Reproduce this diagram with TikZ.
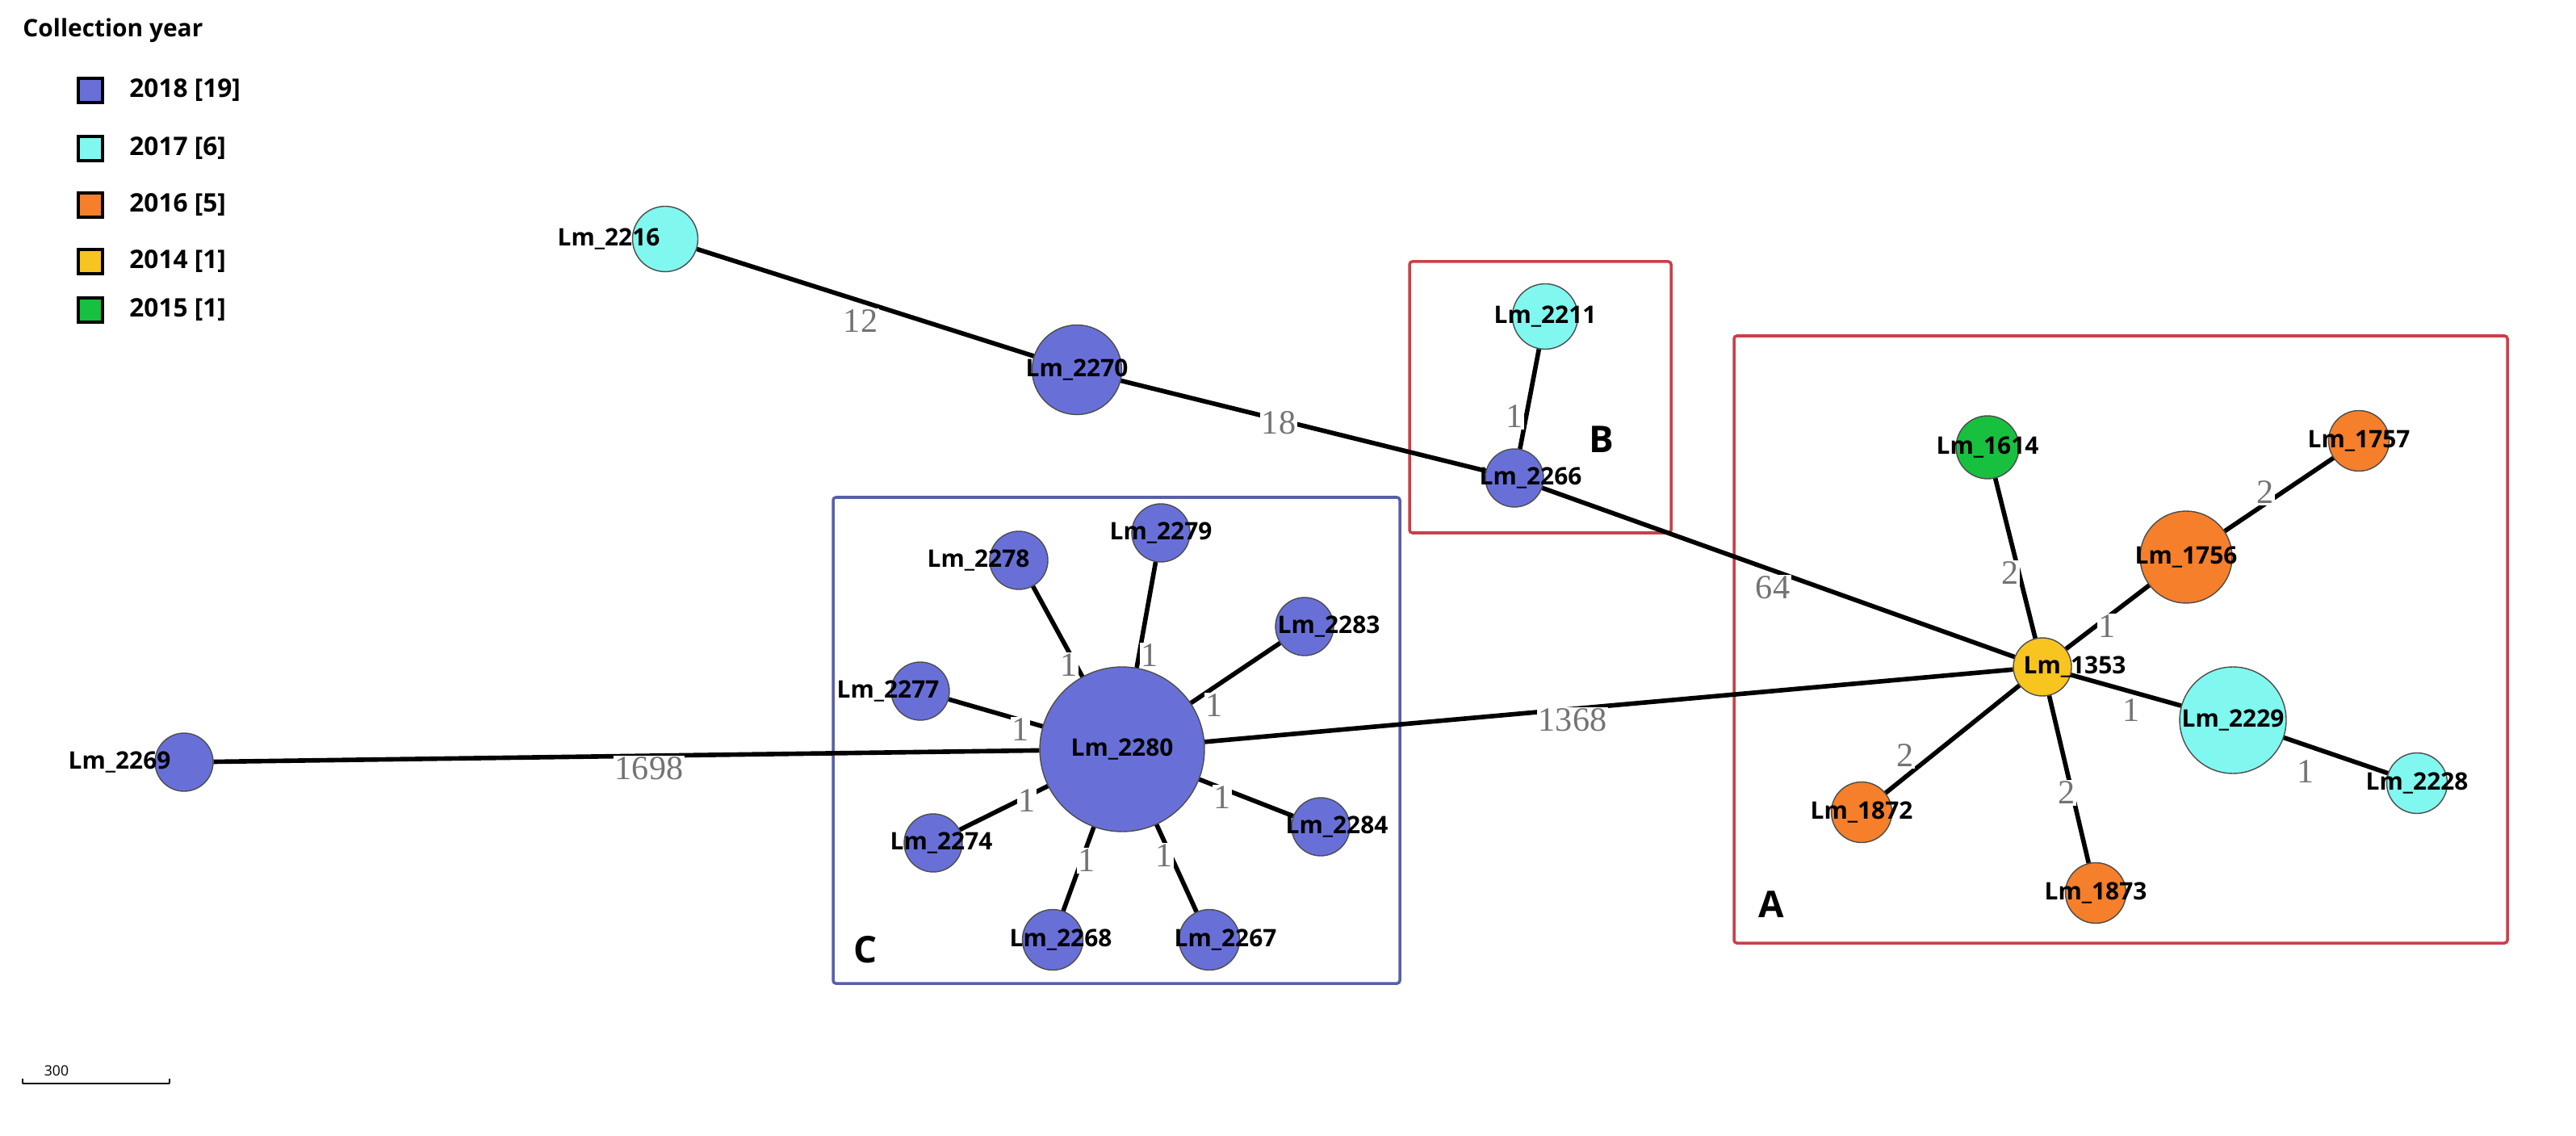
\documentclass[tikz,border=0pt]{standalone}
\usepackage{fontspec}
\setmainfont{Open Sans}
\newfontfamily\lblfont{Liberation Serif}
\begin{document}
\begin{tikzpicture}[x=0.02cm,y=-0.02cm,
 nd/.style={circle,draw=black!70,line width=0.4pt,inner sep=0pt,minimum size=#1*0.03cm},
 nm/.style={font=\bfseries\fontsize{8.5}{9}\selectfont},
 ed/.style={line width=1.6pt},
 el/.style={font=\lblfont\fontsize{12}{12}\selectfont,text=black!55,fill=white,inner sep=0.5pt},
 box/.style={line width=1pt,rounded corners=1pt}]
\definecolor{c18}{HTML}{6870D8}
\definecolor{c17}{HTML}{80F8F0}
\definecolor{c16}{HTML}{F57F2A}
\definecolor{c14}{HTML}{F8C420}
\definecolor{c15}{HTML}{18C040}
\definecolor{rb}{HTML}{C8404A}
\definecolor{bb}{HTML}{5860A8}
\useasboundingbox (0,0) rectangle (1595.5,703.5);
% boxes
\draw[box,rb] (873,162) rectangle (1035,330);
\draw[box,rb] (1074,208) rectangle (1553,584);
\draw[box,bb] (516,308) rectangle (867,609);
\node[font=\bfseries\fontsize{13}{13}\selectfont] (lB) at (992,272) {B};
\node[font=\bfseries\fontsize{13}{13}\selectfont] (lA) at (1097,560) {A};
\node[font=\bfseries\fontsize{13}{13}\selectfont] (lC) at (536,588) {C};
% nodes
\node[nd=27,fill=c17] (n2216) at (412,148) {};
\node[nd=37,fill=c18] (n2270) at (667,229) {};
\node[nd=27,fill=c17] (n2211) at (957,196) {};
\node[nd=24,fill=c18] (n2266) at (938,296) {};
\node[nd=24,fill=c14] (n1353) at (1265,413) {};
\node[nd=26,fill=c15] (n1614) at (1231,277) {};
\node[nd=25,fill=c16] (n1757) at (1461,273) {};
\node[nd=38,fill=c16] (n1756) at (1354,345) {};
\node[nd=44,fill=c17] (n2229) at (1383,446) {};
\node[nd=25,fill=c17] (n2228) at (1497,485) {};
\node[nd=25,fill=c16] (n1872) at (1153,503) {};
\node[nd=25,fill=c16] (n1873) at (1298,553) {};
\node[nd=68,fill=c18] (n2280) at (695,464) {};
\node[nd=24,fill=c18] (n2278) at (631,347) {};
\node[nd=24,fill=c18] (n2279) at (719,330) {};
\node[nd=24,fill=c18] (n2283) at (808,388) {};
\node[nd=24,fill=c18] (n2277) at (570,428) {};
\node[nd=24,fill=c18] (n2274) at (578,522) {};
\node[nd=24,fill=c18] (n2284) at (818,512) {};
\node[nd=25,fill=c18] (n2268) at (652,582) {};
\node[nd=25,fill=c18] (n2267) at (749,582) {};
\node[nd=24,fill=c18] (n2269) at (114,472) {};
% edges
\draw[ed] (n2216)--(n2270);
\draw[ed] (n2270)--(n2266);
\draw[ed] (n2266)--(n2211);
\draw[ed] (n2266)--(n1353);
\draw[ed] (n1353)--(n1614);
\draw[ed] (n1353)--(n1756);
\draw[ed] (n1756)--(n1757);
\draw[ed] (n1353)--(n2229);
\draw[ed] (n2229)--(n2228);
\draw[ed] (n1353)--(n1872);
\draw[ed] (n1353)--(n1873);
\draw[ed] (n2280)--(n1353);
\draw[ed] (n2269)--(n2280);
\foreach \t in {2278,2279,2283,2277,2274,2284,2268,2267} \draw[ed] (n2280)--(n\t);
% edge labels
\node[el] (e1) at (533,199) {12};
\node[el] (e2) at (792,262) {18};
\node[el] (e3) at (938,258) {1};
\node[el] (e4) at (1098,364) {64};
\node[el] (e5) at (1245,355) {2};
\node[el] (e6) at (1403,305) {2};
\node[el] (e7) at (1305,388) {1};
\node[el] (e8) at (1320,440) {1};
\node[el] (e9) at (1428,478) {1};
\node[el] (e10) at (1180,468) {2};
\node[el] (e11) at (1280,491) {2};
\node[el] (e12) at (974,446) {1368};
\node[el] (e13) at (402,476) {1698};
\node[el] (e14) at (662,412) {1};
\node[el] (e15) at (712,406) {1};
\node[el] (e16) at (752,437) {1};
\node[el] (e17) at (632,452) {1};
\node[el] (e18) at (636,496) {1};
\node[el] (e19) at (757,494) {1};
\node[el] (e20) at (673,533) {1};
\node[el] (e21) at (721,530) {1};
% names
\node[nm] at (n2216) [xshift=-0.7cm] {Lm\_2216};
\node[nm] at (n2270) {Lm\_2270};
\node[nm] at (n2211) {Lm\_2211};
\node[nm] at (n2266) [xshift=0.2cm] {Lm\_2266};
\node[nm] at (n1353) [xshift=0.4cm] {Lm\_1353};
\node[nm] at (n1614) {Lm\_1614};
\node[nm] at (n1757) {Lm\_1757};
\node[nm] at (n1756) {Lm\_1756};
\node[nm] at (n2229) {Lm\_2229};
\node[nm] at (n2228) {Lm\_2228};
\node[nm] at (n1872) {Lm\_1872};
\node[nm] at (n1873) {Lm\_1873};
\node[nm] at (n2280) {Lm\_2280};
\node[nm] at (n2278) [xshift=-0.5cm] {Lm\_2278};
\node[nm] at (n2279) {Lm\_2279};
\node[nm] at (n2283) [xshift=0.3cm] {Lm\_2283};
\node[nm] at (n2277) [xshift=-0.4cm] {Lm\_2277};
\node[nm] at (n2274) [xshift=0.1cm] {Lm\_2274};
\node[nm] at (n2284) [xshift=0.2cm] {Lm\_2284};
\node[nm] at (n2268) [xshift=0.1cm] {Lm\_2268};
\node[nm] at (n2267) [xshift=0.2cm] {Lm\_2267};
\node[nm] at (n2269) [xshift=-0.8cm] {Lm\_2269};
% legend
\node[font=\bfseries\fontsize{8.5}{9}\selectfont,anchor=west] (lt) at (8,19) {Collection year};
\foreach \y/\c/\t [count=\i] in {56/c18/2018 [19],92/c17/2017 [6],127/c16/2016 [5],162/c14/2014 [1],192/c15/2015 [1]}{
 \node[draw=black,line width=1.2pt,fill=\c,minimum size=0.3cm,inner sep=0pt] (sq\i) at (56,\y) {};
 \node[font=\bfseries\fontsize{9}{9}\selectfont,anchor=west] (lg\i) at (74,\y) {\t};
}
% scale bar
\coordinate (s1) at (14,671); \coordinate (s2) at (105,671);
\draw[line width=0.6pt] (s1)--(s2);
\draw[line width=0.6pt] (s1)--++(0,-3) (s2)--++(0,-3);
\node[font=\fontsize{5}{5}\selectfont] (st) at (35,663) {300};
\end{tikzpicture}
\end{document}
